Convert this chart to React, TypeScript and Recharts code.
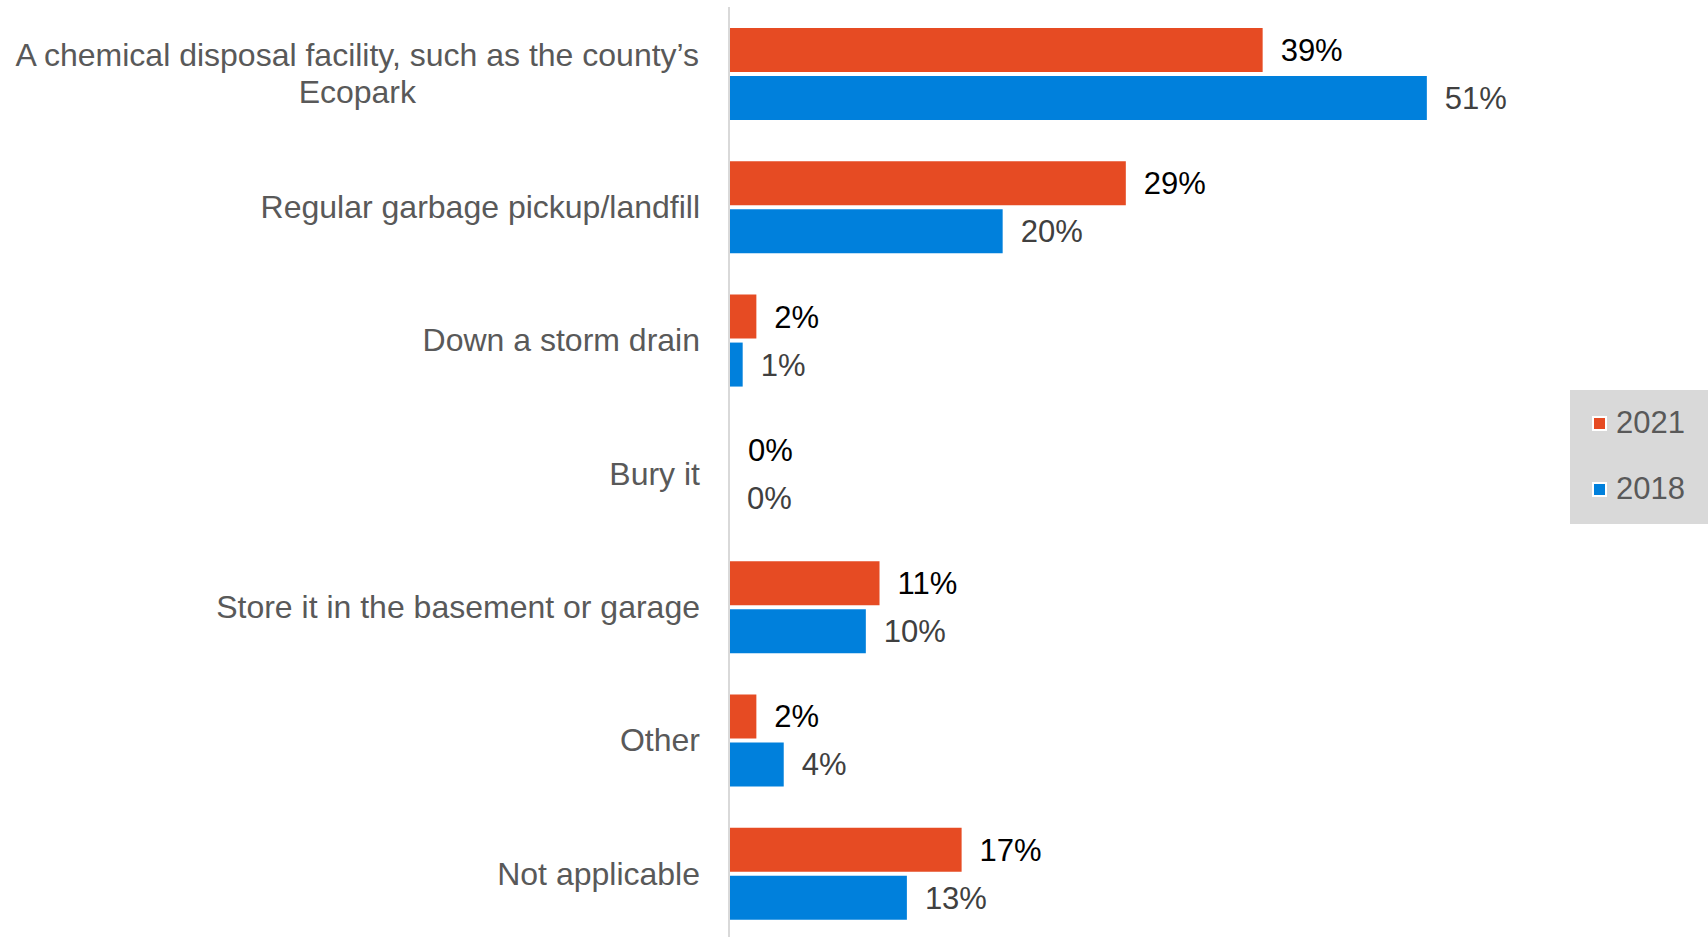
import { BarChart, Bar, XAxis, YAxis, LabelList } from "recharts";

const categories = [
  "A chemical disposal facility, such as the county’s\nEcopark",
  "Regular garbage pickup/landfill",
  "Down a storm drain",
  "Bury it",
  "Store it in the basement or garage",
  "Other",
  "Not applicable",
];
const values2021 = [39, 29, 2, 0, 11, 2, 17];
const values2018 = [51, 20, 1, 0, 10, 4, 13];
const seriesNames = ["2021", "2018"];

const data = categories.map((name, i) => ({
  name,
  y2021: values2021[i],
  y2018: values2018[i],
}));

const FONT = "'Liberation Sans', Arial, sans-serif";
const ORANGE = "#E64B23";
const BLUE = "#0080DC";
const TEXT = "#595959";

let ctx: CanvasRenderingContext2D | null = null;
const measure = (s: string, size: number) => {
  if (!ctx) ctx = document.createElement("canvas").getContext("2d");
  if (!ctx) return s.length * size * 0.5;
  ctx.font = `${size}px ${FONT}`;
  return ctx.measureText(s).width;
};

const CategoryTick = (props: any) => {
  const { x, y, payload } = props;
  const lines: string[] = String(payload.value).split("\n");
  const size = 32;
  const lh = 37;
  if (lines.length === 1) {
    return (
      <text x={x} y={y} dy="0.35em" textAnchor="end" fill={TEXT} fontSize={size} fontFamily={FONT}>
        {lines[0]}
      </text>
    );
  }
  const maxW = Math.max(...lines.map((l) => measure(l, size)));
  const cx = x - maxW / 2;
  const top = y - ((lines.length - 1) * lh) / 2;
  return (
    <text textAnchor="middle" fill={TEXT} fontSize={size} fontFamily={FONT}>
      {lines.map((l, i) => (
        <tspan key={i} x={cx} y={top + i * lh} dy="0.35em">
          {l}
        </tspan>
      ))}
    </text>
  );
};

const LegendBox = () => (
  <div
    style={{
      position: "absolute",
      left: 1570,
      top: 390,
      width: 138,
      height: 134,
      background: "#D9D9D9",
      fontFamily: FONT,
      fontSize: 31,
      color: TEXT,
    }}
  >
    {seriesNames.map((s, i) => (
      <div
        key={s}
        style={{ position: "absolute", left: 22, top: 15 + i * 66, display: "flex", alignItems: "center", height: 36 }}
      >
        <span
          style={{
            width: 11,
            height: 11,
            border: "2px solid #fff",
            background: i === 0 ? ORANGE : BLUE,
            marginRight: 9,
          }}
        />
        {s}
      </div>
    ))}
  </div>
);

export default function App() {
  return (
    <div style={{ position: "absolute", left: 0, top: 0, width: 1708, height: 937, background: "#fff", overflow: "hidden" }}>
      <BarChart
        width={1708}
        height={940}
        data={data}
        layout="vertical"
        margin={{ top: 7, right: 158, bottom: 0, left: 0 }}
        barSize={44}
        barGap={4}
      >
        <XAxis type="number" domain={[0, 60]} hide />
        <YAxis
          type="category"
          dataKey="name"
          width={729}
          tick={<CategoryTick />}
          tickLine={false}
          tickSize={0}
          tickMargin={29}
          axisLine={{ stroke: "#D9D9D9", strokeWidth: 2 }}
          interval={0}
        />
        <Bar dataKey="y2021" fill={ORANGE} minPointSize={1} isAnimationActive={false}>
          <LabelList
            dataKey="y2021"
            position="right"
            offset={18}
            formatter={(v: any) => `${v}%`}
            fill="#000"
            fontSize={31}
            fontFamily={FONT}
          />
        </Bar>
        <Bar dataKey="y2018" fill={BLUE} minPointSize={0.01} isAnimationActive={false}>
          <LabelList
            dataKey="y2018"
            position="right"
            offset={18}
            formatter={(v: any) => `${v}%`}
            fill="#404040"
            fontSize={31}
            fontFamily={FONT}
          />
        </Bar>
      </BarChart>
      <LegendBox />
    </div>
  );
}
